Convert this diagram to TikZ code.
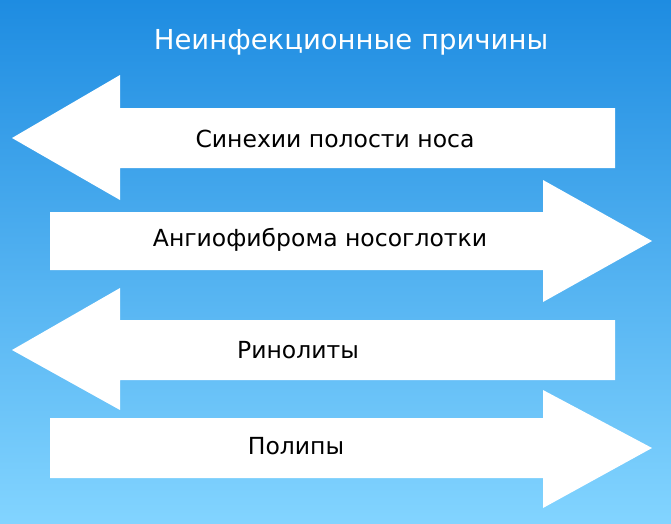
\documentclass[tikz,border=0pt]{standalone}
\usepackage{fontspec}
\setmainfont{DejaVu Sans}
\begin{document}
\begin{tikzpicture}[x=1pt,y=-1pt,
  arr/.style={fill=white,draw=none},
  lbl/.style={font=\fontsize{23.5}{26}\selectfont,text=black,inner sep=0pt}]
\shade[top color={rgb,255:red,30;green,140;blue,225},bottom color={rgb,255:red,130;green,212;blue,255}] (0,0) rectangle (671,523);
\useasboundingbox (0,0) rectangle (671,523);
\node[font=\fontsize{27.5}{30}\selectfont,text=white,inner sep=0pt] (title) at (351,42) {Неинфекционные причины};
\fill[arr] (12,138) -- (120,75) -- (120,108) -- (615,108) -- (615,168) -- (120,168) -- (120,200) -- cycle;
\node[lbl] (a1) at (335,139) {Синехии полости носа};
\fill[arr] (652,241) -- (543,180) -- (543,212) -- (50,212) -- (50,270) -- (543,270) -- (543,302) -- cycle;
\node[lbl] (a2) at (320,240) {Ангиофиброма носоглотки};
\fill[arr] (12,350) -- (120,288) -- (120,320) -- (615,320) -- (615,380) -- (120,380) -- (120,410) -- cycle;
\node[lbl] (a3) at (298,350) {Ринолиты};
\fill[arr] (652,448) -- (543,390) -- (543,418) -- (50,418) -- (50,478) -- (543,478) -- (543,508) -- cycle;
\node[lbl] (a4) at (296,446) {Полипы};
\end{tikzpicture}
\end{document}
